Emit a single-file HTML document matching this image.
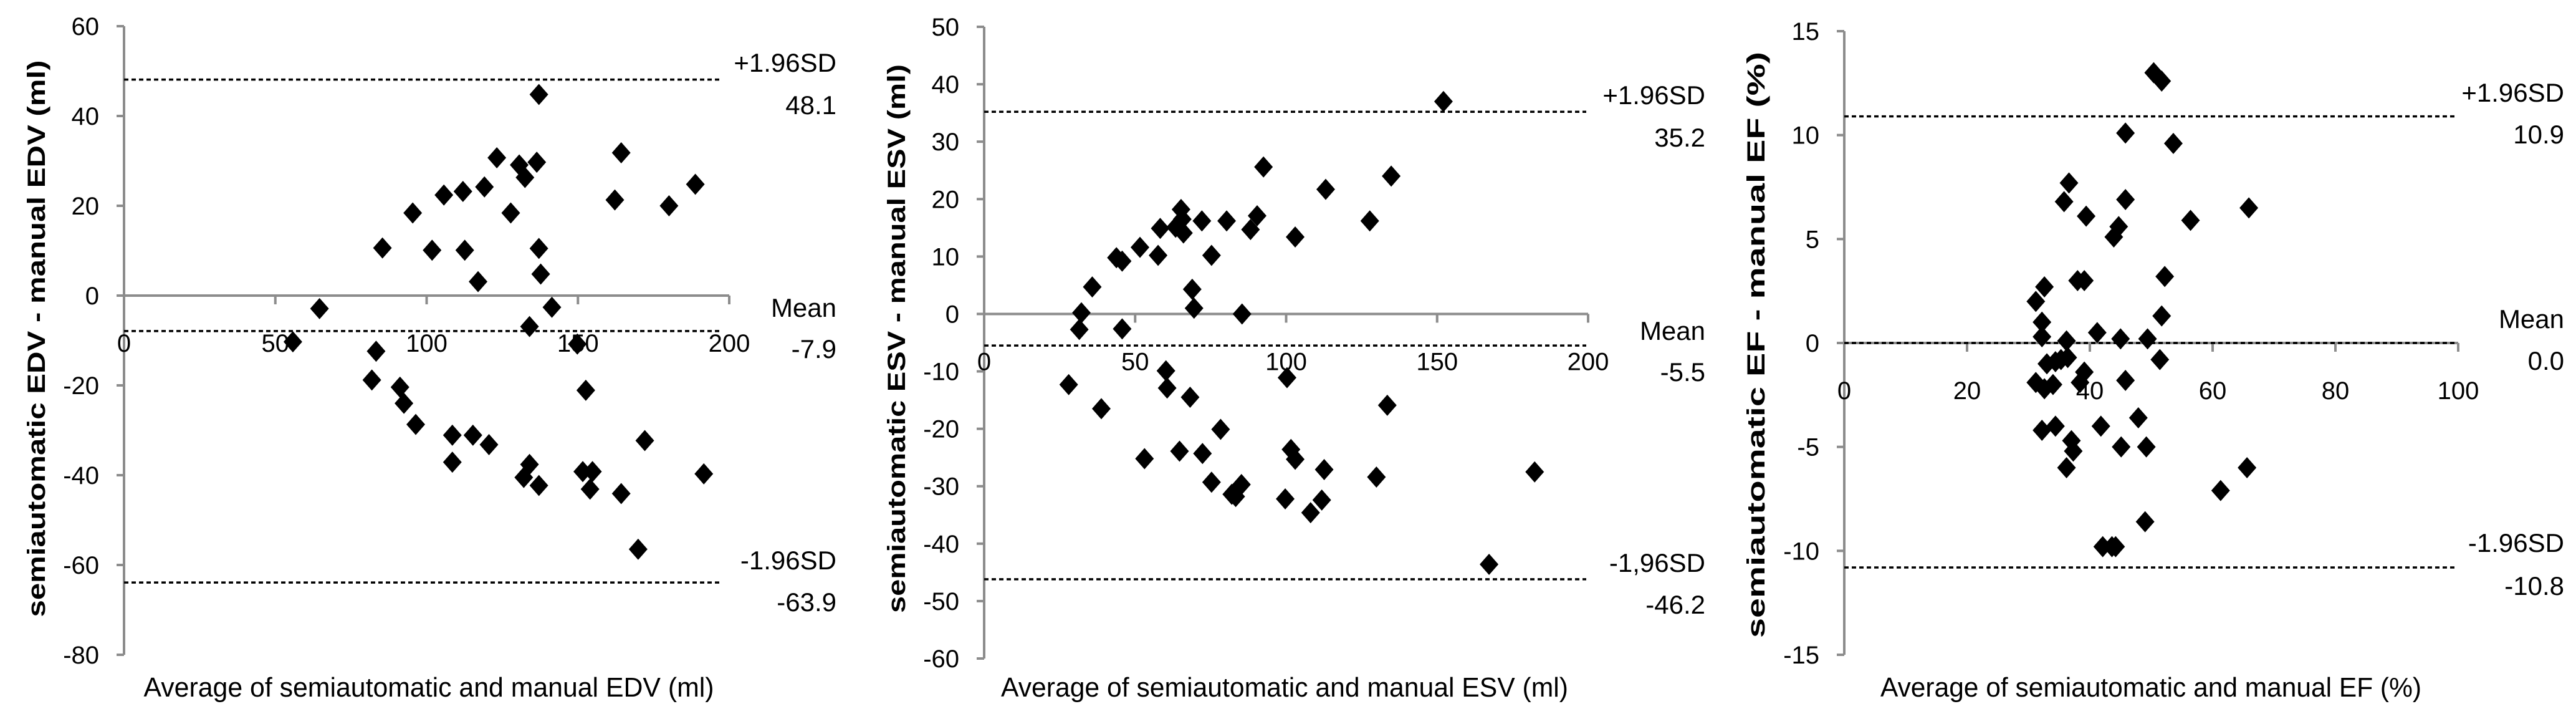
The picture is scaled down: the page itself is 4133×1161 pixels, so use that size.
<!DOCTYPE html>
<html><head><meta charset="utf-8"><style>
html,body{margin:0;padding:0;background:#fff;}
svg{display:block;font-family:"Liberation Sans",sans-serif;}
</style></head><body>
<svg id="chart" width="4133" height="1161" viewBox="0 0 4133 1161" xmlns="http://www.w3.org/2000/svg"></svg>
<script>
// ---- Panel 1: EDV ----
const edvX = [55.8,64.6,85.4,83.3,81.9,95.4,91.2,92.5,96.4,101.8,105.7,112,112.6,108.5,108.5,115.3,117,119.1,120.6,123.2,127.8,130.6,132.5,136.4,137.1,137.1,137.7,141.4,134,134,132.1,137.1,149.8,152.6,151.6,154.8,154,162.2,164.3,164.3,172.1,169.9,180.1,188.8,191.6];
const edvY = [-10.3,-2.9,10.6,-12.4,-18.8,18.4,-20.4,-24,-28.7,10.1,22.4,23.2,10.1,-31.1,-37.1,-31.1,3.1,24.2,-33.2,30.7,18.4,29.1,26.3,29.7,44.8,10.5,4.8,-2.6,-6.9,-37.6,-40.5,-42.3,-10.8,-21.1,-39.2,-39.2,-43.1,21.3,31.8,-44.1,-32.3,-56.5,20,24.8,-39.7];
const edvYTicks = [60,40,20,0,-20,-40,-60,-80];
const edvXTicks = [0,50,100,150,200];
const edvLines = [48.1,-7.9,-63.9];
const edvLineLabels = [["+1.96SD","48.1"],["Mean","-7.9"],["-1.96SD","-63.9"]];
// ---- Panel 2: ESV ----
const esvX = [32.2,31.5,28,35.8,38.8,43.8,45.7,45.7,51.6,53.1,57.6,58.3,60.2,60.6,63.4,64.7,65.2,65.6,66,68.2,68.9,69.5,72.1,72.3,75.3,75.3,78.3,80.3,82,83.3,85.2,85.4,88.2,90.4,92.5,99.7,100.3,101.6,103,103,108.1,111.8,112.6,113.1,127.7,129.9,133.5,134.8,152.1,167.2,182.3];
const esvY = [0.2,-2.7,-12.3,4.7,-16.5,9.8,9.2,-2.6,11.6,-25.2,10.2,14.9,-9.9,-12.9,15.1,-23.9,18.2,16.5,14.1,-14.5,4.3,1,16.2,-24.3,10.2,-29.3,-20.1,16.2,-31.4,-31.8,-29.7,0,14.7,17.1,25.6,-32.2,-11.1,-23.6,-25.3,13.4,-34.6,-32.4,-27.1,21.7,16.2,-28.4,-15.9,24,37,-43.6,-27.5];
const esvYTicks = [50,40,30,20,10,0,-10,-20,-30,-40,-50,-60];
const esvXTicks = [0,50,100,150,200];
const esvLines = [35.2,-5.5,-46.2];
const esvLineLabels = [["+1.96SD","35.2"],["Mean","-5.5"],["-1,96SD","-46.2"]];
// ---- Panel 3: EF ----
const efX = [31.2,32.6,32.2,32.2,31.2,32.6,34,33,34.4,35.3,36.4,36.2,32.2,34.4,37,37.3,36.2,35.8,36.6,39.4,38,39.1,39.1,38.4,41.2,41.8,42.1,43.6,44.2,43.9,44.7,45,45.8,45.8,45.8,45.1,47.9,49,49.2,49.4,50.4,51.7,51.4,51.7,52.2,53.6,56.4,61.3,65.6,65.9];
const efY = [2,2.7,1,0.3,-1.9,-2.2,-2,-1,-0.9,-0.8,-0.7,0.1,-4.2,-4,-4.7,-5.2,-6,6.8,7.7,6.1,3,3,-1.4,-1.9,0.5,-4,-9.8,-9.8,-9.8,5.1,5.6,0.2,10.1,6.9,-1.8,-5,-3.6,-8.6,-5,0.2,13,12.6,-0.8,1.3,3.2,9.6,5.9,-7.1,-6,6.5];
const efYTicks = [15,10,5,0,-5,-10,-15];
const efXTicks = [0,20,40,60,80,100];
const efLines = [10.9,0.0,-10.8];
const efLineLabels = [["+1.96SD","10.9"],["Mean","0.0"],["-1.96SD","-10.8"]];

const NS = "http://www.w3.org/2000/svg";
const svg = document.getElementById('chart');
function mk(tag, attrs, parent){
  const e = document.createElementNS(NS, tag);
  for (const k in attrs) e.setAttribute(k, attrs[k]);
  (parent||svg).appendChild(e);
  return e;
}
function panel(cfg, xs, ys, yTicks, xTicks, lines, lineLabels){
  const g = mk('g', {});
  
  
  const sx = v => cfg.x0 + (v - cfg.xmin) * (cfg.x1 - cfg.x0) / (cfg.xmax - cfg.xmin);
  const sy = v => cfg.yTop + (cfg.ymax - v) * (cfg.yBot - cfg.yTop) / (cfg.ymax - cfg.ymin);
  const axisCol = '#8c8c8c';
  // y axis
  const ya = mk('line', {x1:cfg.x0, y1:sy(cfg.ymax), x2:cfg.x0, y2:sy(cfg.ymin), stroke:axisCol, 'stroke-width':4}, g);
  
  
  yTicks.forEach(t => {
    const tk = mk('line', {x1:cfg.x0-12, y1:sy(t), x2:cfg.x0, y2:sy(t), stroke:axisCol, 'stroke-width':4}, g);
    
    
    const tl = mk('text', {x:cfg.x0-40, y:sy(t)+14, 'text-anchor':'end', 'font-size':40, fill:'#000'}, g);
    
    
    tl.textContent = t;
  });
  // x axis at y=0
  const y0 = sy(0);
  const xa = mk('line', {x1:cfg.x0, y1:y0, x2:sx(cfg.xmax), y2:y0, stroke:axisCol, 'stroke-width':4}, g);
  
  
  xTicks.forEach(t => {
    const tk = mk('line', {x1:sx(t), y1:y0, x2:sx(t), y2:y0+14, stroke:axisCol, 'stroke-width':4}, g);
    
    
    const tl = mk('text', {x:sx(t), y:y0+90, 'text-anchor':'middle', 'font-size':40, fill:'#000'}, g);
    
    
    tl.textContent = t;
  });
  // reference lines
  lines.forEach((v, i) => {
    const ln = mk('line', {x1:cfg.x0, y1:sy(v), x2:cfg.lineEnd, y2:sy(v), stroke:'#000', 'stroke-width':3.5, 'stroke-dasharray':'7 5'}, g);
    
    
    const a = mk('text', {x:cfg.labelRight, y:cfg.labelY[i][0], 'text-anchor':'end', 'font-size':42, fill:'#000'}, g);
    
    
    a.textContent = lineLabels[i][0];
    const b = mk('text', {x:cfg.labelRight, y:cfg.labelY[i][1], 'text-anchor':'end', 'font-size':42, fill:'#000'}, g);
    
    
    b.textContent = lineLabels[i][1];
  });
  // points
  xs.forEach((xv, i) => {
    const cx = sx(xv), cy = sy(ys[i]);
    const p = mk('polygon', {points:`${cx},${cy-17} ${cx+15},${cy} ${cx},${cy+17} ${cx-15},${cy}`, fill:'#000'}, g);
    
    
  });
  // titles
  const yt = mk('text', {x:0, y:0, transform:`translate(${cfg.yTitleX},${cfg.yTitleY}) rotate(-90)`, 'text-anchor':'middle', 'font-size':40, 'font-weight':'bold', fill:'#000', textLength:cfg.yTitleLen, lengthAdjust:'spacingAndGlyphs'}, g);
  
  
  yt.textContent = cfg.yTitle;
  const xt = mk('text', {x:cfg.xTitleX, y:1117, 'text-anchor':'middle', 'font-size':44, fill:'#000', textLength:cfg.xTitleLen, lengthAdjust:'spacingAndGlyphs'}, g);
  
  
  xt.textContent = cfg.xTitle;
}
panel({name:'edv-panel', x0:199, x1:1170, xmin:0, xmax:200, yTop:42, yBot:1050, ymax:60, ymin:-80,
  lineEnd:1155, labelRight:1342, labelY:[[115,183],[508,574],[913,980]],
  yTitleX:72, yTitleY:543, yTitleLen:893, yTitle:'semiautomatic EDV - manual EDV (ml)',
  xTitleX:688, xTitleLen:915, xTitle:'Average of semiautomatic and manual EDV (ml)'},
  edvX, edvY, edvYTicks, edvXTicks, edvLines, edvLineLabels);
panel({name:'esv-panel', x0:1579, x1:2548, xmin:0, xmax:200, yTop:43, yBot:1056, ymax:50, ymin:-60,
  lineEnd:2545, labelRight:2736, labelY:[[167,235],[545,611],[917,984]],
  yTitleX:1452, yTitleY:543, yTitleLen:880, yTitle:'semiautomatic ESV - manual ESV (ml)',
  xTitleX:2061, xTitleLen:910, xTitle:'Average of semiautomatic and manual ESV (ml)'},
  esvX, esvY, esvYTicks, esvXTicks, esvLines, esvLineLabels);
panel({name:'ef-panel', x0:2959, x1:3944, xmin:0, xmax:100, yTop:50, yBot:1050, ymax:15, ymin:-15,
  lineEnd:3942, labelRight:4114, labelY:[[163,230],[526,593],[885,954]],
  yTitleX:2831, yTitleY:553, yTitleLen:940, yTitle:'semiautomatic EF - manual EF (%)',
  xTitleX:3451, xTitleLen:868, xTitle:'Average of semiautomatic and manual EF (%)'},
  efX, efY, efYTicks, efXTicks, efLines, efLineLabels);
</script>
</body></html>
